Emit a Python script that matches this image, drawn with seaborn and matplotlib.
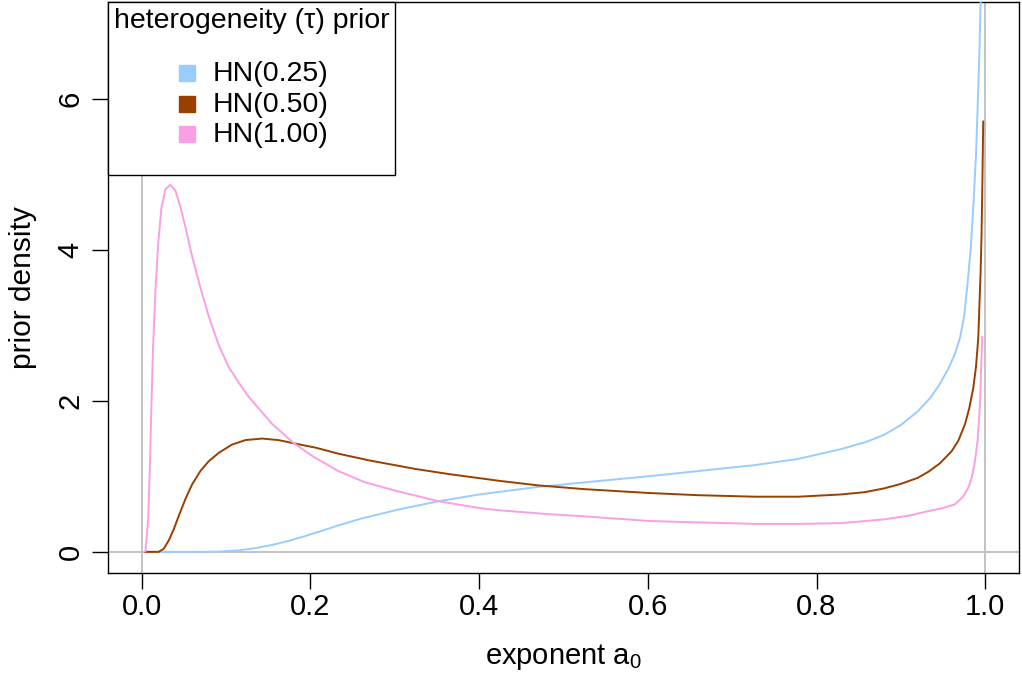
import pandas as pd
import seaborn as sns
import matplotlib.pyplot as plt
from matplotlib.lines import Line2D

# values
prior_names = ['HN(0.25)', 'HN(0.50)', 'HN(1.00)']
prior_colors = ['#99CCFF', '#993F00', '#F99FE3']

a0_hn025 = [0.003, 0.03, 0.0695, 0.095, 0.115, 0.135, 0.154, 0.174, 0.194, 0.214, 0.233,
            0.26, 0.304, 0.352, 0.40, 0.47, 0.525, 0.60, 0.66, 0.728, 0.778, 0.829, 0.86,
            0.88, 0.90, 0.92, 0.935, 0.946, 0.956, 0.964, 0.970, 0.975, 0.979, 0.983,
            0.986, 0.989, 0.991, 0.993, 0.9945]
dens_hn025 = [0, 0, 0, 0.005, 0.02, 0.05, 0.09, 0.145, 0.21, 0.28, 0.35,
              0.44, 0.56, 0.67, 0.76, 0.86, 0.92, 1.00, 1.07, 1.15, 1.23, 1.36, 1.46,
              1.55, 1.68, 1.86, 2.04, 2.22, 2.42, 2.62, 2.83, 3.12, 3.55, 4.05,
              4.60, 5.25, 5.90, 6.60, 7.28]

a0_hn050 = [0.003, 0.020, 0.026, 0.032, 0.038, 0.044, 0.0518, 0.0596, 0.0695, 0.0794,
            0.0912, 0.107, 0.123, 0.1426, 0.162, 0.179, 0.206, 0.233, 0.27, 0.304, 0.323,
            0.364, 0.424, 0.47, 0.525, 0.60, 0.66, 0.728, 0.778, 0.829, 0.857, 0.880, 0.90,
            0.920, 0.9325, 0.946, 0.960, 0.968, 0.976, 0.981, 0.9858, 0.989, 0.9917,
            0.9945, 0.9956, 0.9966, 0.9976]
dens_hn050 = [0, 0, 0.04, 0.15, 0.30, 0.48, 0.70, 0.89, 1.07, 1.20,
              1.31, 1.42, 1.48, 1.50, 1.48, 1.44, 1.38, 1.30, 1.21, 1.14, 1.10,
              1.03, 0.94, 0.88, 0.83, 0.78, 0.75, 0.73, 0.73, 0.76, 0.79, 0.84, 0.90,
              0.98, 1.06, 1.17, 1.33, 1.47, 1.69, 1.90, 2.17, 2.45, 2.83,
              3.71, 4.20, 4.90, 5.70]

a0_hn100 = [0.0024, 0.0044, 0.0075, 0.0095, 0.0115, 0.0134, 0.0162, 0.0193, 0.0233, 0.028,
            0.034, 0.040, 0.0458, 0.0518, 0.0596, 0.0695, 0.0794, 0.0912, 0.103, 0.115,
            0.127, 0.154, 0.179, 0.202, 0.233, 0.265, 0.304, 0.352, 0.40, 0.424, 0.482,
            0.525, 0.60, 0.627, 0.728, 0.778, 0.829, 0.880, 0.91, 0.9325, 0.950, 0.964,
            0.973, 0.980, 0.984, 0.9878, 0.991, 0.9937, 0.9964]
dens_hn100 = [0, 0.01, 0.41, 1.07, 1.95, 2.70, 3.45, 4.05, 4.55, 4.80,
              4.86, 4.78, 4.57, 4.30, 3.92, 3.50, 3.12, 2.74, 2.45, 2.24,
              2.05, 1.70, 1.45, 1.27, 1.07, 0.92, 0.80, 0.67, 0.58, 0.55, 0.50,
              0.47, 0.41, 0.40, 0.37, 0.37, 0.38, 0.43, 0.48, 0.54, 0.58, 0.63,
              0.72, 0.85, 0.98, 1.20, 1.48, 1.95, 2.85]

x_ticks = [0.0, 0.2, 0.4, 0.6, 0.8, 1.0]
y_ticks = [0, 2, 4, 6]

df = pd.concat([
    pd.DataFrame({'a0': a0_hn025, 'density': dens_hn025, 'prior': prior_names[0]}),
    pd.DataFrame({'a0': a0_hn050, 'density': dens_hn050, 'prior': prior_names[1]}),
    pd.DataFrame({'a0': a0_hn100, 'density': dens_hn100, 'prior': prior_names[2]}),
])

sns.set_style('ticks')
plt.rcParams['font.family'] = ['Liberation Sans', 'DejaVu Sans']
plt.rcParams['mathtext.default'] = 'regular'
for k in ['text.color', 'axes.labelcolor', 'xtick.color', 'ytick.color']:
    plt.rcParams[k] = 'black'

fig = plt.figure(figsize=(10.22, 6.76), dpi=100)
ax = fig.add_axes([108 / 1022, 1 - 573 / 676, 911 / 1022, 571 / 676])

# grey reference lines
ax.axhline(0, color='#BEBEBE', lw=1.3, zorder=1)
ax.axvline(0, color='#BEBEBE', lw=1.3, zorder=1)
ax.axvline(1, color='#BEBEBE', lw=1.3, zorder=1)

sns.lineplot(data=df, x='a0', y='density', hue='prior', hue_order=prior_names,
             palette=dict(zip(prior_names, prior_colors)), estimator=None, sort=False,
             legend=False, lw=1.4, ax=ax, zorder=3)

ax.set_xlim(-0.04, 1.04)
ax.set_ylim(-0.28, 7.28)
ax.set_xticks(x_ticks)
ax.set_xticklabels(['%.1f' % t for t in x_ticks])
ax.set_yticks(y_ticks)
ax.set_yticklabels([str(t) for t in y_ticks], rotation=90, va='center')
ax.tick_params(direction='out', length=11.5, width=1, labelsize=21)
ax.tick_params(axis='x', pad=3)
ax.tick_params(axis='y', pad=5.5)
for s in ax.spines.values():
    s.set_visible(True)
    s.set_linewidth(1)
    s.set_color('black')

ax.set_xlabel(r'exponent $a_0$', fontsize=21, labelpad=15)
ax.set_ylabel('prior density', fontsize=21.5, labelpad=14)

handles = [Line2D([], [], marker='s', linestyle='none', markersize=11.5, color=c)
           for c in prior_colors]
handles.append(Line2D([], [], linestyle='none'))
leg = ax.legend(handles, prior_names + [' '], title='heterogeneity (τ) prior\n',
                loc='upper left', bbox_to_anchor=(0, 1), borderaxespad=0,
                frameon=True, fancybox=False, edgecolor='black', framealpha=1,
                fontsize=20.5, title_fontsize=20.5, handlelength=0.91, handletextpad=0.46,
                handleheight=0.25, labelspacing=0.155, borderpad=0.2)
leg.get_frame().set_linewidth(1)
leg.get_title().set_linespacing(0.86)
leg.get_texts()[3].set_fontsize(2)

plt.savefig('out.png', dpi=100)
